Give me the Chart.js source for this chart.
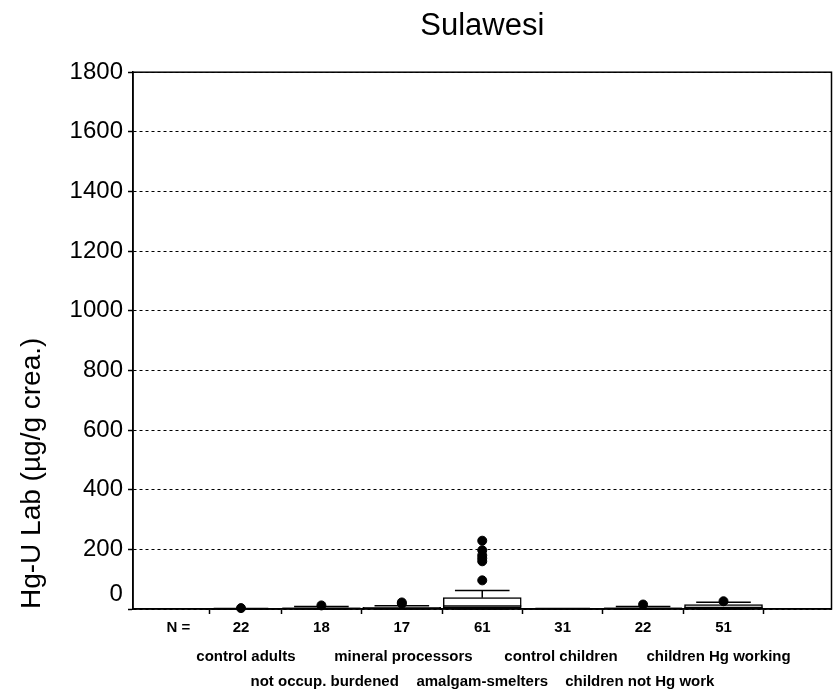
<!DOCTYPE html>
<html>
<head>
<meta charset="utf-8">
<script src="https://cdn.jsdelivr.net/npm/chart.js@4/dist/chart.umd.min.js"></script>
<style>
  html, body { margin: 0; padding: 0; background: #ffffff; }
  #wrap { width: 837px; height: 693px; }
</style>
</head>
<body>
<div id="wrap"><canvas id="c" width="837" height="693"></canvas></div>
<script>
// ---------- data ----------
const groups = ['control adults', 'not occup. burdened', 'mineral processors', 'amalgam-smelters',
                'control children', 'children not Hg work', 'children Hg working'];
const nCounts = [22, 18, 17, 61, 31, 22, 51];
const whiskerLow  = [0,   0,   0,   0,   0,   0,   0];
const q1          = [0.3, 0.8, 1,   3,   0.2, 0.5, 2];
const median      = [0.6, 1.5, 2.5, 10,  0.5, 1.5, 5];
const q3          = [1.2, 4,   6,   38,  1,   4,   15];
const whiskerHigh = [2,   8,   11,  62,  1.8, 8,   23];
const outliers    = [[3], [12], [18, 22], [229, 197, 180, 170, 160, 96], [], [15], [26]];
const yTicks = [0, 200, 400, 600, 800, 1000, 1200, 1400, 1600, 1800];
const nLabel = 'N =';
const titleText = 'Sulawesi';
const yTitleText = 'Hg-U Lab (\u00b5g/g crea.)';

// ---------- layout / style constants ----------
const FONT = '"Liberation Sans", Arial, Helvetica, sans-serif';
const X_MIN = 0.2, X_MAX = 7.8;
const N_LABEL_POS = 0.22;
const BOX_WIDTH = 78;
const CAP_RATIO = 0.7;

const positions = groups.map((g, i) => i + 1);

const boxData = positions.map((p, i) => ({ x: p, y: [q1[i], q3[i]] }));
const outlierData = [];
outliers.forEach((arr, i) => arr.forEach(v => outlierData.push({ x: positions[i], y: v })));

const boxPlugin = {
  id: 'boxParts',
  afterDatasetsDraw(chart) {
    const xs = chart.scales.x, ys = chart.scales.y, ctx = chart.ctx;
    ctx.save();
    ctx.strokeStyle = '#000';
    ctx.lineWidth = 1.5;
    positions.forEach((p, i) => {
      const cx = xs.getPixelForValue(p);
      const half = BOX_WIDTH / 2, capHalf = BOX_WIDTH * CAP_RATIO / 2;
      const yq1 = ys.getPixelForValue(q1[i]), yq3 = ys.getPixelForValue(q3[i]);
      const ylo = ys.getPixelForValue(whiskerLow[i]), yhi = ys.getPixelForValue(whiskerHigh[i]);
      const ymed = ys.getPixelForValue(median[i]);
      ctx.beginPath();
      ctx.moveTo(cx, yq3); ctx.lineTo(cx, yhi);
      ctx.moveTo(cx - capHalf, yhi); ctx.lineTo(cx + capHalf, yhi);
      ctx.moveTo(cx, yq1); ctx.lineTo(cx, ylo);
      ctx.moveTo(cx - capHalf, ylo); ctx.lineTo(cx + capHalf, ylo);
      ctx.moveTo(cx - half, ymed); ctx.lineTo(cx + half, ymed);
      ctx.stroke();
    });
    const a = chart.chartArea;
    ctx.strokeRect(a.left, a.top, a.right - a.left, a.bottom - a.top);
    ctx.restore();
  }
};

const xTickPositions = [N_LABEL_POS].concat(positions);
const xTickLabels = [nLabel].concat(nCounts.map(String));
const groupLabels = groups.map((g, i) => (i % 2 === 0 ? [g] : ['', g]));

new Chart(document.getElementById('c'), {
  type: 'bar',
  data: {
    datasets: [
      {
        type: 'bar',
        data: boxData,
        xAxisID: 'x', yAxisID: 'y',
        backgroundColor: '#ffffff',
        borderColor: '#000000',
        borderWidth: 1.5,
        borderSkipped: false,
        barThickness: BOX_WIDTH,
        order: 2
      },
      {
        type: 'scatter',
        data: outlierData,
        xAxisID: 'x', yAxisID: 'y',
        backgroundColor: '#000000',
        borderColor: '#000000',
        pointRadius: 4.5,
        pointHoverRadius: 4.5,
        clip: false,
        order: 1
      }
    ]
  },
  options: {
    responsive: false,
    animation: false,
    devicePixelRatio: 1,
    layout: { padding: { left: 0, right: 5, top: 0, bottom: 0 } },
    plugins: {
      legend: { display: false },
      tooltip: { enabled: false },
      title: {
        display: true,
        text: titleText,
        fullSize: false,
        color: '#000',
        font: { family: FONT, size: 31, weight: 'normal' },
        padding: { top: 8, bottom: 27 }
      }
    },
    scales: {
      x: {
        type: 'linear',
        position: 'bottom',
        min: X_MIN, max: X_MAX,
        weight: 0,
        afterBuildTicks: s => { s.ticks = xTickPositions.map(v => ({ value: v })); },
        ticks: {
          autoSkip: false, maxRotation: 0, minRotation: 0,
          padding: 5,
          color: '#000',
          font: { family: FONT, size: 15, weight: 'bold' },
          callback: (v, i) => xTickLabels[i]
        },
        grid: {
          display: true, drawOnChartArea: false, drawTicks: true, tickLength: 5,
          tickColor: c => (c.tick && c.tick.value < 0.5 ? 'rgba(0,0,0,0)' : '#000'),
          tickWidth: 1.5
        },
        border: { display: true, color: '#000', width: 1.5 }
      },
      xg: {
        type: 'linear',
        position: 'bottom',
        min: X_MIN, max: X_MAX,
        weight: 1,
        afterBuildTicks: s => { s.ticks = positions.map(v => ({ value: v })); },
        afterFit: s => { s.height = 51; },
        ticks: {
          autoSkip: false, maxRotation: 0, minRotation: 0,
          padding: 2,
          color: '#000',
          font: { family: FONT, size: 15, weight: 'bold', lineHeight: '25px' },
          callback: (v, i) => groupLabels[i]
        },
        grid: { display: false, drawTicks: false },
        border: { display: false }
      },
      y: {
        type: 'linear',
        position: 'left',
        min: 0, max: 1800,
        weight: 1,
        afterBuildTicks: s => { s.ticks = yTicks.map(v => ({ value: v })); },
        ticks: {
          padding: 5,
          color: '#000',
          font: { family: FONT, size: 24 },
          callback: v => (v === 0 ? '' : String(v))
        },
        grid: {
          display: true, drawOnChartArea: true, drawTicks: true, tickLength: 5,
          color: '#000', lineWidth: 1, tickColor: '#000', tickWidth: 1.5
        },
        border: { display: true, color: '#000', width: 1.5, dash: [3, 3] },
        title: {
          display: true,
          text: yTitleText,
          align: 'start',
          color: '#000',
          font: { family: FONT, size: 28 },
          padding: { top: 15, bottom: 16 }
        }
      },
      y0: {
        type: 'linear',
        position: 'left',
        min: 0, max: 1800,
        weight: -1,
        afterBuildTicks: s => { s.ticks = [{ value: yTicks[0] }]; },
        afterFit: s => { s.width = 0; },
        ticks: {
          mirror: true,
          crossAlign: 'near',
          padding: -23.5,
          labelOffset: -15,
          color: '#000',
          font: { family: FONT, size: 24 },
          callback: v => String(v)
        },
        grid: { display: false, drawTicks: false },
        border: { display: false }
      }
    }
  },
  plugins: [boxPlugin]
});
</script>
</body>
</html>
